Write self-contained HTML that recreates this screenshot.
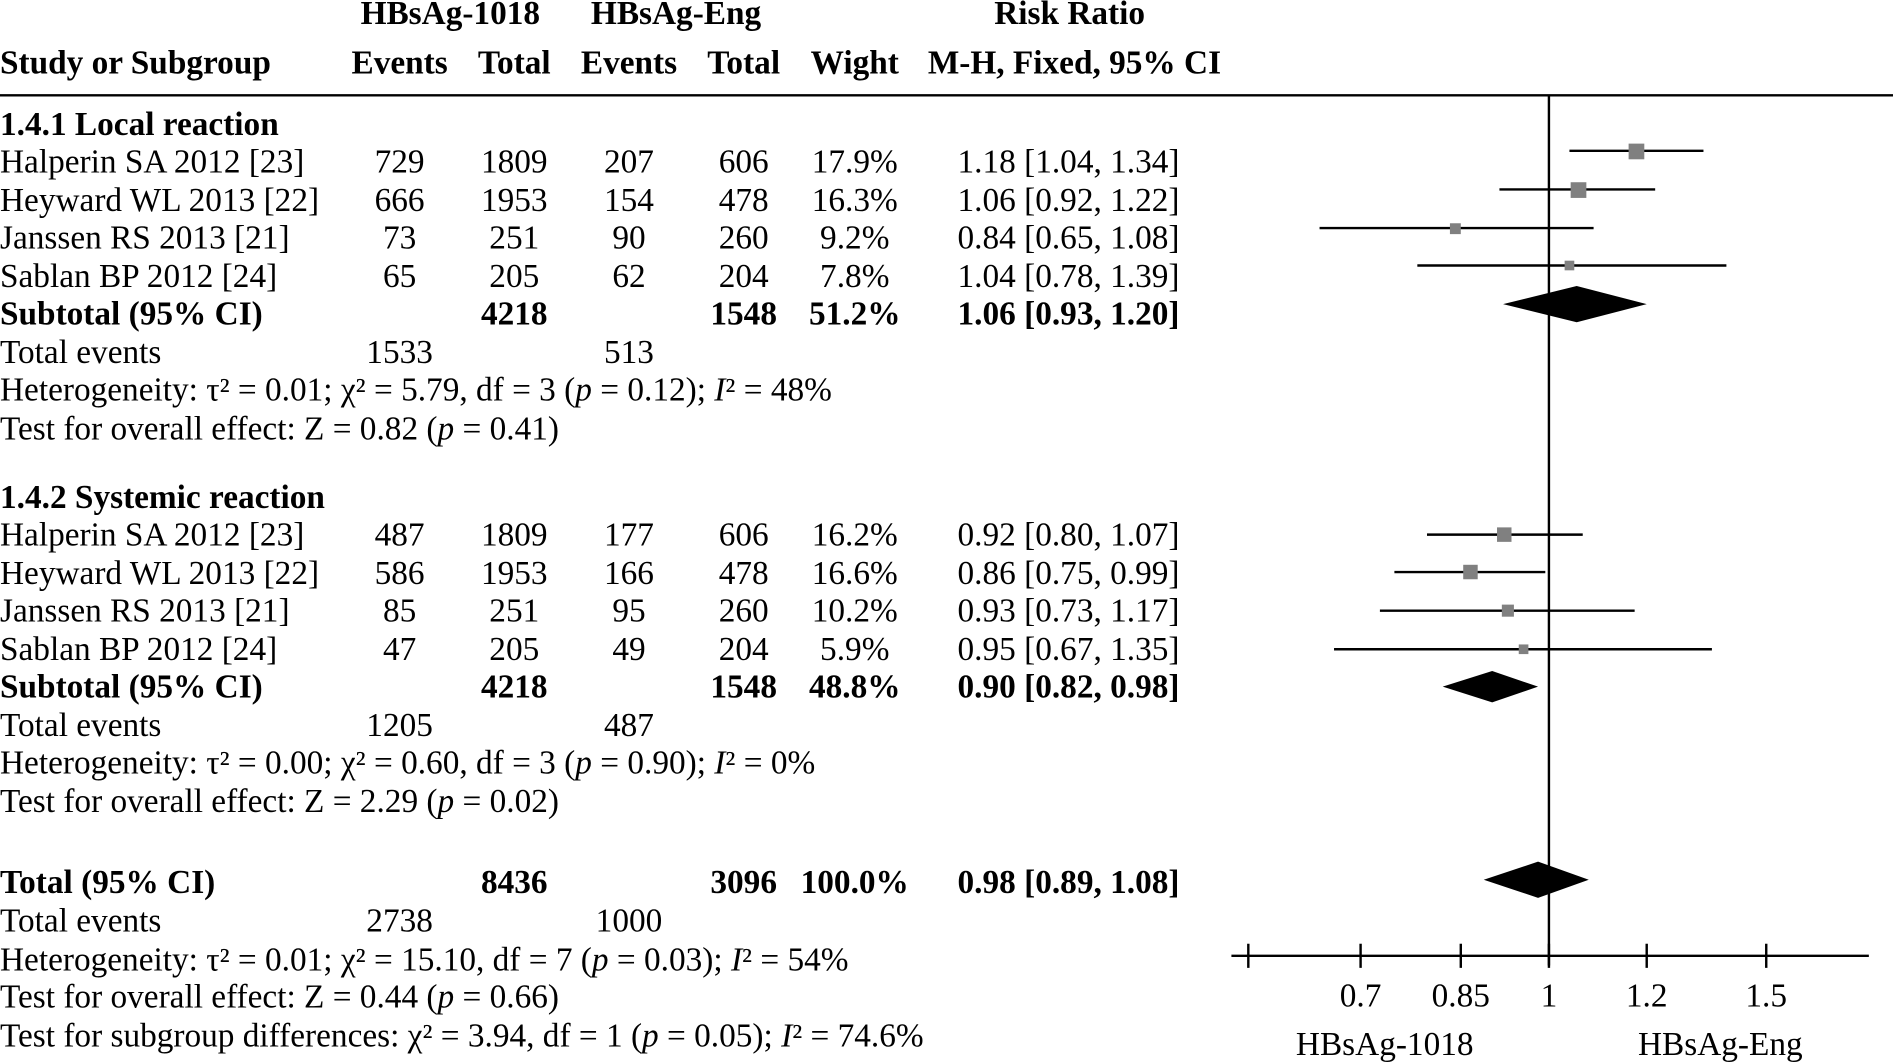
<!DOCTYPE html>
<html><head><meta charset="utf-8"><style>
html,body{margin:0;padding:0;background:#fff;}
svg{display:block;}
text{font-family:"Liberation Serif",serif;font-size:27.6px;fill:#000;}
.b{font-weight:bold;}
.m{text-anchor:middle;}
.e{text-anchor:end;}
</style></head><body>
<svg width="1893" height="1062" viewBox="0 0 1568 880" preserveAspectRatio="none">
<g class="b">
<text x="373" y="20" class="m b">HBsAg-1018</text>
<text x="560" y="20" class="m b">HBsAg-Eng</text>
<text x="886" y="20" class="m b">Risk Ratio</text>
<text x="0" y="61" class="b">Study or Subgroup</text>
<text x="331" y="61" class="m b">Events</text>
<text x="426" y="61" class="m b">Total</text>
<text x="521" y="61" class="m b">Events</text>
<text x="616" y="61" class="m b">Total</text>
<text x="708" y="61" class="m b">Wight</text>
<text x="890" y="61" class="m b">M-H, Fixed, 95% CI</text>
</g>
<line x1="0" y1="79" x2="1568" y2="79" stroke="#000" stroke-width="2"/>

<text x="0" y="112" class="b">1.4.1 Local reaction</text>
<g>
<text x="0" y="143">Halperin SA 2012 [23]</text><text x="331" y="143" class="m">729</text><text x="426" y="143" class="m">1809</text><text x="521" y="143" class="m">207</text><text x="616" y="143" class="m">606</text><text x="708" y="143" class="m">17.9%</text><text x="977" y="143" class="e">1.18 [1.04, 1.34]</text>
<text x="0" y="175">Heyward WL 2013 [22]</text><text x="331" y="175" class="m">666</text><text x="426" y="175" class="m">1953</text><text x="521" y="175" class="m">154</text><text x="616" y="175" class="m">478</text><text x="708" y="175" class="m">16.3%</text><text x="977" y="175" class="e">1.06 [0.92, 1.22]</text>
<text x="0" y="206">Janssen RS 2013 [21]</text><text x="331" y="206" class="m">73</text><text x="426" y="206" class="m">251</text><text x="521" y="206" class="m">90</text><text x="616" y="206" class="m">260</text><text x="708" y="206" class="m">9.2%</text><text x="977" y="206" class="e">0.84 [0.65, 1.08]</text>
<text x="0" y="238">Sablan BP 2012 [24]</text><text x="331" y="238" class="m">65</text><text x="426" y="238" class="m">205</text><text x="521" y="238" class="m">62</text><text x="616" y="238" class="m">204</text><text x="708" y="238" class="m">7.8%</text><text x="977" y="238" class="e">1.04 [0.78, 1.39]</text>
<text x="0" y="269" class="b">Subtotal (95% CI)</text><text x="426" y="269" class="m b">4218</text><text x="616" y="269" class="m b">1548</text><text x="708" y="269" class="m b">51.2%</text><text x="977" y="269" class="e b">1.06 [0.93, 1.20]</text>
<text x="0" y="301">Total events</text><text x="331" y="301" class="m">1533</text><text x="521" y="301" class="m">513</text>
<text x="0" y="332">Heterogeneity: τ² = 0.01; χ² = 5.79, df = 3 (<tspan font-style="italic">p</tspan> = 0.12); <tspan font-style="italic">I</tspan>² = 48%</text>
<text x="0" y="364">Test for overall effect: Z = 0.82 (<tspan font-style="italic">p</tspan> = 0.41)</text>
</g>

<text x="0" y="421" class="b">1.4.2 Systemic reaction</text>
<g>
<text x="0" y="452">Halperin SA 2012 [23]</text><text x="331" y="452" class="m">487</text><text x="426" y="452" class="m">1809</text><text x="521" y="452" class="m">177</text><text x="616" y="452" class="m">606</text><text x="708" y="452" class="m">16.2%</text><text x="977" y="452" class="e">0.92 [0.80, 1.07]</text>
<text x="0" y="484">Heyward WL 2013 [22]</text><text x="331" y="484" class="m">586</text><text x="426" y="484" class="m">1953</text><text x="521" y="484" class="m">166</text><text x="616" y="484" class="m">478</text><text x="708" y="484" class="m">16.6%</text><text x="977" y="484" class="e">0.86 [0.75, 0.99]</text>
<text x="0" y="515">Janssen RS 2013 [21]</text><text x="331" y="515" class="m">85</text><text x="426" y="515" class="m">251</text><text x="521" y="515" class="m">95</text><text x="616" y="515" class="m">260</text><text x="708" y="515" class="m">10.2%</text><text x="977" y="515" class="e">0.93 [0.73, 1.17]</text>
<text x="0" y="547">Sablan BP 2012 [24]</text><text x="331" y="547" class="m">47</text><text x="426" y="547" class="m">205</text><text x="521" y="547" class="m">49</text><text x="616" y="547" class="m">204</text><text x="708" y="547" class="m">5.9%</text><text x="977" y="547" class="e">0.95 [0.67, 1.35]</text>
<text x="0" y="578" class="b">Subtotal (95% CI)</text><text x="426" y="578" class="m b">4218</text><text x="616" y="578" class="m b">1548</text><text x="708" y="578" class="m b">48.8%</text><text x="977" y="578" class="e b">0.90 [0.82, 0.98]</text>
<text x="0" y="610">Total events</text><text x="331" y="610" class="m">1205</text><text x="521" y="610" class="m">487</text>
<text x="0" y="641">Heterogeneity: τ² = 0.00; χ² = 0.60, df = 3 (<tspan font-style="italic">p</tspan> = 0.90); <tspan font-style="italic">I</tspan>² = 0%</text>
<text x="0" y="673">Test for overall effect: Z = 2.29 (<tspan font-style="italic">p</tspan> = 0.02)</text>
</g>

<text x="0" y="740" class="b">Total (95% CI)</text><text x="426" y="740" class="m b">8436</text><text x="616" y="740" class="m b">3096</text><text x="708" y="740" class="m b">100.0%</text><text x="977" y="740" class="e b">0.98 [0.89, 1.08]</text>
<text x="0" y="772">Total events</text><text x="331" y="772" class="m">2738</text><text x="521" y="772" class="m">1000</text>
<text x="0" y="804">Heterogeneity: τ² = 0.01; χ² = 15.10, df = 7 (<tspan font-style="italic">p</tspan> = 0.03); <tspan font-style="italic">I</tspan>² = 54%</text>
<text x="0" y="835">Test for overall effect: Z = 0.44 (<tspan font-style="italic">p</tspan> = 0.66)</text>
<text x="0" y="867">Test for subgroup differences: χ² = 3.94, df = 1 (<tspan font-style="italic">p</tspan> = 0.05); <tspan font-style="italic">I</tspan>² = 74.6%</text>

<!-- plot -->
<g stroke="#000" stroke-width="2">
<line x1="1283" y1="79" x2="1283" y2="800"/>
<line x1="1020" y1="792" x2="1548" y2="792"/>
<line x1="1034" y1="782" x2="1034" y2="802"/>
<line x1="1127" y1="782" x2="1127" y2="802"/>
<line x1="1210" y1="782" x2="1210" y2="802"/>
<line x1="1283" y1="782" x2="1283" y2="802"/>
<line x1="1364" y1="782" x2="1364" y2="802"/>
<line x1="1463" y1="782" x2="1463" y2="802"/>
<line x1="1300" y1="125" x2="1411" y2="125"/>
<line x1="1242" y1="157" x2="1371" y2="157"/>
<line x1="1093" y1="189" x2="1320" y2="189"/>
<line x1="1174" y1="220" x2="1430" y2="220"/>
<line x1="1182" y1="443" x2="1311" y2="443"/>
<line x1="1155" y1="474" x2="1280" y2="474"/>
<line x1="1143" y1="506" x2="1354" y2="506"/>
<line x1="1105" y1="538" x2="1418" y2="538"/>
</g>
<g fill="#808080">
<rect x="1349" y="119" width="13" height="13"/>
<rect x="1301" y="151" width="13" height="13"/>
<rect x="1201" y="185" width="9" height="9"/>
<rect x="1296" y="216" width="8" height="8"/>
<rect x="1240" y="437" width="12" height="12"/>
<rect x="1212" y="468" width="12" height="12"/>
<rect x="1244" y="501" width="10" height="10"/>
<rect x="1258" y="534" width="8" height="8"/>
</g>
<g fill="#000">
<polygon points="1245,252 1306,237 1364,252 1306,267"/>
<polygon points="1195,569 1236,556 1274,569 1236,582"/>
<polygon points="1229,729 1274,714 1316,729 1274,744"/>
</g>
<text x="1127" y="834" class="m">0.7</text>
<text x="1210" y="834" class="m">0.85</text>
<text x="1283" y="834" class="m">1</text>
<text x="1364" y="834" class="m">1.2</text>
<text x="1463" y="834" class="m">1.5</text>
<text x="1147" y="874" class="m">HBsAg-1018</text>
<text x="1425" y="874" class="m">HBsAg-Eng</text>
</svg>
</body></html>
